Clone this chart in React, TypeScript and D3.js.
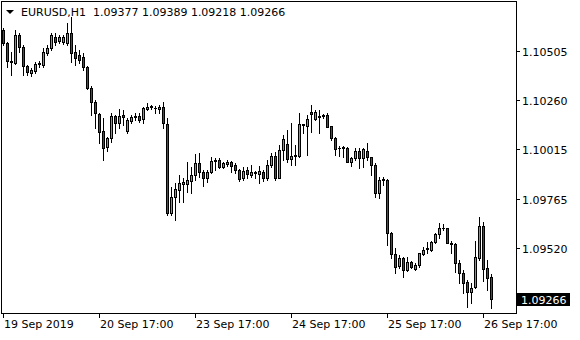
import React from 'react';
import * as d3 from 'd3';

const symbolLabel = 'EURUSD,H1';
const opens = [
  1.10610, 1.10545, 1.10455, 1.10445, 1.10585, 1.10525, 1.10430, 1.10395, 1.10405, 1.10440,
  1.10435, 1.10495, 1.10520, 1.10575, 1.10555, 1.10550, 1.10545, 1.10595, 1.10500, 1.10485,
  1.10475, 1.10425, 1.10320, 1.10250, 1.10190, 1.10105, 1.10025, 1.10070, 1.10180, 1.10145,
  1.10185, 1.10105, 1.10155, 1.10175, 1.10180, 1.10165, 1.10215, 1.10225, 1.10220, 1.10215,
  1.10225, 1.10140, 1.09695, 1.09775, 1.09810, 1.09840, 1.09840, 1.09855, 1.09885, 1.09945,
  1.09900, 1.09870, 1.09900, 1.09955, 1.09960, 1.09925, 1.09940, 1.09950, 1.09935, 1.09910,
  1.09870, 1.09910, 1.09885, 1.09895, 1.09890, 1.09900, 1.09870, 1.09935, 1.09980, 1.09870,
  1.10010, 1.10040, 1.09965, 1.09980, 1.09980, 1.10135, 1.10130, 1.10200, 1.10165, 1.10175,
  1.10180, 1.10185, 1.10130, 1.10070, 1.10020, 1.10020, 1.10020, 1.09950, 1.09970, 1.10005,
  1.09970, 1.10005, 1.09975, 1.09935, 1.09795, 1.09860, 1.09860, 1.09595, 1.09490, 1.09430,
  1.09470, 1.09410, 1.09450, 1.09415, 1.09435, 1.09490, 1.09515, 1.09510, 1.09550, 1.09590,
  1.09620, 1.09620, 1.09545, 1.09540, 1.09445, 1.09395, 1.09350, 1.09300, 1.09325, 1.09470,
  1.09630, 1.09420, 1.09377,
];
const highs = [
  1.10620, 1.10550, 1.10500, 1.10610, 1.10595, 1.10535, 1.10435, 1.10420, 1.10450, 1.10455,
  1.10520, 1.10535, 1.10595, 1.10595, 1.10585, 1.10585, 1.10645, 1.10675, 1.10535, 1.10510,
  1.10495, 1.10430, 1.10330, 1.10260, 1.10195, 1.10170, 1.10075, 1.10195, 1.10185, 1.10215,
  1.10210, 1.10170, 1.10185, 1.10195, 1.10195, 1.10225, 1.10245, 1.10235, 1.10230, 1.10235,
  1.10250, 1.10170, 1.09825, 1.09845, 1.09885, 1.09870, 1.09950, 1.09925, 1.09990, 1.09995,
  1.09910, 1.09910, 1.09975, 1.09970, 1.09970, 1.09950, 1.09960, 1.09955, 1.09945, 1.09915,
  1.09925, 1.09925, 1.09935, 1.09905, 1.09930, 1.09910, 1.09960, 1.09995, 1.10000, 1.10035,
  1.10085, 1.10110, 1.10145, 1.10035, 1.10195, 1.10140, 1.10185, 1.10235, 1.10210, 1.10210,
  1.10190, 1.10195, 1.10130, 1.10075, 1.10030, 1.10030, 1.10025, 1.09975, 1.10020, 1.10020,
  1.10020, 1.10045, 1.09975, 1.09945, 1.09875, 1.09875, 1.09865, 1.09600, 1.09520, 1.09485,
  1.09475, 1.09475, 1.09455, 1.09445, 1.09495, 1.09525, 1.09550, 1.09555, 1.09595, 1.09645,
  1.09640, 1.09620, 1.09555, 1.09545, 1.09460, 1.09410, 1.09360, 1.09345, 1.09555, 1.09675,
  1.09650, 1.09460, 1.09389,
];
const lows = [
  1.10535, 1.10425, 1.10385, 1.10440, 1.10500, 1.10385, 1.10385, 1.10380, 1.10395, 1.10425,
  1.10425, 1.10485, 1.10510, 1.10535, 1.10545, 1.10540, 1.10535, 1.10450, 1.10435, 1.10445,
  1.10410, 1.10315, 1.10185, 1.10120, 1.10045, 1.09960, 1.10005, 1.10050, 1.10095, 1.10120,
  1.10135, 1.10095, 1.10145, 1.10160, 1.10150, 1.10145, 1.10210, 1.10215, 1.10195, 1.10195,
  1.10120, 1.09685, 1.09685, 1.09660, 1.09750, 1.09750, 1.09800, 1.09795, 1.09860, 1.09875,
  1.09830, 1.09850, 1.09895, 1.09910, 1.09920, 1.09920, 1.09930, 1.09900, 1.09895, 1.09855,
  1.09860, 1.09870, 1.09875, 1.09870, 1.09845, 1.09855, 1.09860, 1.09925, 1.09860, 1.09870,
  1.09960, 1.09950, 1.09935, 1.09935, 1.09975, 1.10095, 1.09985, 1.10100, 1.10160, 1.10095,
  1.10170, 1.10125, 1.10060, 1.09985, 1.09980, 1.09975, 1.09950, 1.09930, 1.09960, 1.09920,
  1.09925, 1.09960, 1.09885, 1.09775, 1.09770, 1.09835, 1.09535, 1.09470, 1.09395, 1.09420,
  1.09375, 1.09405, 1.09420, 1.09410, 1.09425, 1.09485, 1.09495, 1.09505, 1.09545, 1.09570,
  1.09610, 1.09545, 1.09495, 1.09400, 1.09345, 1.09295, 1.09225, 1.09245, 1.09320, 1.09460,
  1.09355, 1.09310, 1.09218,
];
const closes = [
  1.10545, 1.10455, 1.10450, 1.10585, 1.10525, 1.10430, 1.10400, 1.10410, 1.10440, 1.10445,
  1.10500, 1.10520, 1.10585, 1.10550, 1.10575, 1.10575, 1.10595, 1.10495, 1.10470, 1.10460,
  1.10425, 1.10320, 1.10250, 1.10195, 1.10100, 1.10020, 1.10070, 1.10180, 1.10145, 1.10180,
  1.10175, 1.10160, 1.10175, 1.10180, 1.10160, 1.10220, 1.10225, 1.10230, 1.10220, 1.10225,
  1.10145, 1.09695, 1.09775, 1.09815, 1.09845, 1.09850, 1.09860, 1.09885, 1.09945, 1.09900,
  1.09870, 1.09900, 1.09955, 1.09960, 1.09925, 1.09945, 1.09950, 1.09930, 1.09910, 1.09865,
  1.09905, 1.09890, 1.09900, 1.09900, 1.09905, 1.09870, 1.09935, 1.09980, 1.09870, 1.10010,
  1.10065, 1.09965, 1.09980, 1.09985, 1.10140, 1.10140, 1.10165, 1.10190, 1.10200, 1.10180,
  1.10185, 1.10125, 1.10070, 1.10015, 1.10020, 1.10025, 1.09950, 1.09970, 1.10005, 1.09970,
  1.10015, 1.09975, 1.09935, 1.09795, 1.09860, 1.09865, 1.09595, 1.09490, 1.09425, 1.09470,
  1.09410, 1.09450, 1.09425, 1.09435, 1.09495, 1.09510, 1.09520, 1.09550, 1.09590, 1.09620,
  1.09620, 1.09545, 1.09540, 1.09445, 1.09395, 1.09345, 1.09300, 1.09320, 1.09475, 1.09630,
  1.09415, 1.09370, 1.09266,
];
const yTickValues = [1.10505, 1.1026, 1.10015, 1.09765, 1.0952];
const xTickBars = [0, 24, 48, 72, 96, 120];
const xTickLabels = ['19 Sep 2019', '20 Sep 17:00', '23 Sep 17:00', '24 Sep 17:00', '25 Sep 17:00', '26 Sep 17:00'];

const FONT = "'DejaVu Sans', Verdana, sans-serif";
const BULL = '#32cd32';
const BEAR = '#ff0000';

export default function App() {
  const n = closes.length;
  const x = d3.scaleLinear().domain([0, n - 1]).range([3, 3 + 4 * (n - 1)]);
  const y = d3.scaleLinear().domain([1.1076, 1.0952]).range([0, 248]);
  const fmt = d3.format('.5f');
  const last = n - 1;
  const lastY = y(closes[last]);

  const candles = d3.range(n).map((i) => {
    const cx = Math.round(x(i));
    const o = opens[i], c = closes[i];
    const yH = Math.round(y(highs[i]));
    const yL = Math.round(y(lows[i]));
    const yT = Math.round(y(Math.max(o, c)));
    const yB = Math.round(y(Math.min(o, c)));
    const color = c > o ? BULL : c < o ? BEAR : '#000';
    return (
      <g key={i}>
        <line x1={cx + 0.5} x2={cx + 0.5} y1={yH} y2={yL + 1} stroke="#000" strokeWidth={1} />
        {yB - yT >= 2 ? (
          <rect x={cx - 0.5} y={yT + 0.5} width={2} height={yB - yT} fill={color} stroke="#000" strokeWidth={1} />
        ) : (
          <rect x={cx - 1} y={yT} width={3} height={Math.max(1, yB - yT + 1)} fill="#000" />
        )}
      </g>
    );
  });

  return (
    <svg width={580} height={340} style={{ position: 'absolute', left: 0, top: 0, background: '#fff' }} fontFamily={FONT} fontSize={11}>
      <rect x={0} y={0} width={580} height={340} fill="#fff" />
      <rect x={1.5} y={1.5} width={515} height={312} fill="none" stroke="#000" strokeWidth={1} />
      {candles}
      {yTickValues.map((v) => {
        const ty = Math.round(y(v)) + 0.5;
        return (
          <g key={v}>
            <line x1={517} x2={520} y1={ty} y2={ty} stroke="#000" />
            <text x={522} y={ty + 4.5} fill="#000">{fmt(v)}</text>
          </g>
        );
      })}
      <rect x={517} y={Math.round(lastY) - 6} width={53} height={13} fill="#000" />
      <text x={521} y={Math.round(lastY) + 4.5} fill="#fff">{fmt(closes[last])}</text>
      {xTickBars.map((b, k) => {
        const tx = Math.round(x(b)) + 0.5;
        return (
          <g key={b}>
            <line x1={tx} x2={tx} y1={314} y2={318} stroke="#000" />
            <text x={tx + 0.5} y={328} fill="#000">{xTickLabels[k]}</text>
          </g>
        );
      })}
      <polygon points="6,10 14,10 10,14" fill="#000" />
      <text x={21} y={16} fill="#000" style={{ whiteSpace: 'pre' }} xmlSpace="preserve">
        {`${symbolLabel}  ${fmt(opens[last])} ${fmt(highs[last])} ${fmt(lows[last])} ${fmt(closes[last])}`}
      </text>
    </svg>
  );
}
